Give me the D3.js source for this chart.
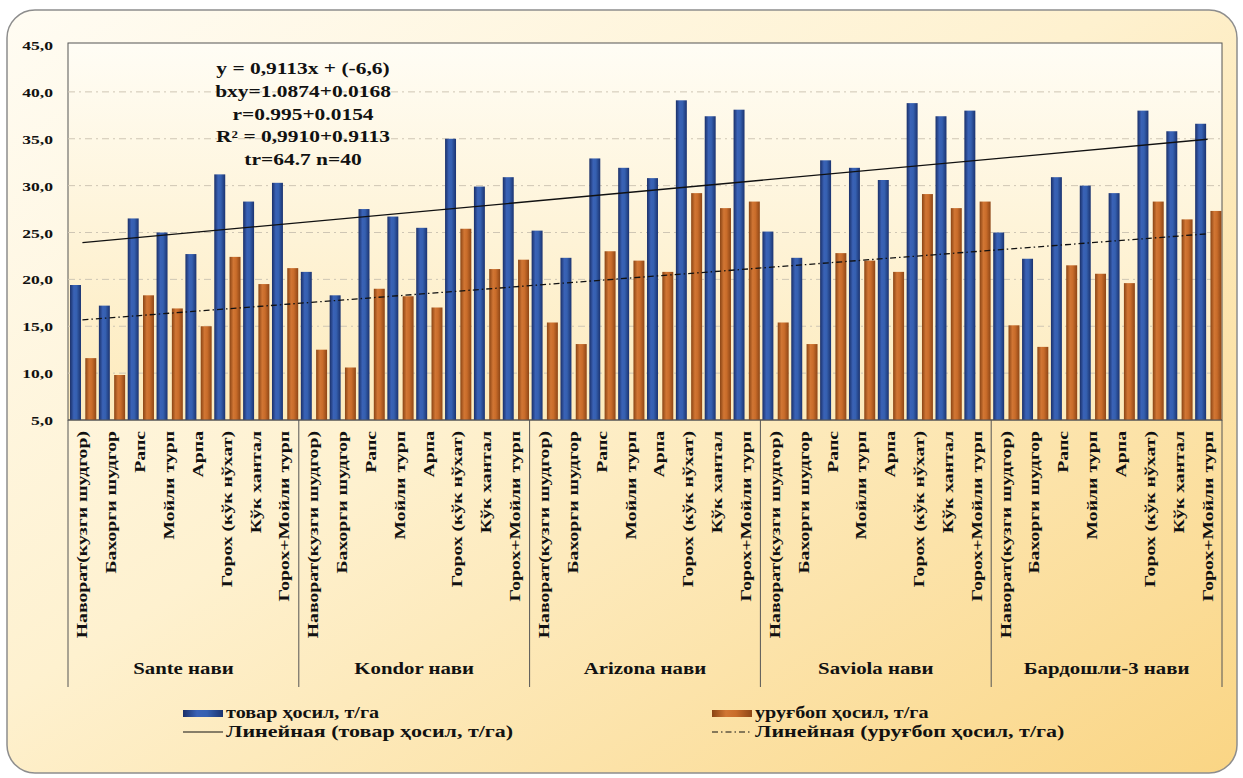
<!DOCTYPE html>
<html><head><meta charset="utf-8">
<script src="https://cdn.jsdelivr.net/npm/d3@7/dist/d3.min.js"></script>
<style>html,body{margin:0;padding:0;background:#fff;}svg{display:block;}</style>
</head><body>
<svg id="chart" width="1243" height="778"></svg>
<script>
const varieties = ["Sante нави", "Kondor нави", "Arizona нави", "Saviola нави", "Бардошли-3 нави"];
const treatments = ["Наворат(кузги шудгор)", "Бахорги шудгор", "Рапс", "Мойли турп", "Арпа", "Горох (кўк нўхат)", "Кўк хантал", "Горох+Мойли турп"];
const tovar = [19.4,17.2,26.5,25.0,22.7,31.2,28.3,30.3, 20.8,18.3,27.5,26.7,25.5,35.0,29.9,30.9, 25.2,22.3,32.9,31.9,30.8,39.1,37.4,38.1, 25.1,22.3,32.7,31.9,30.6,38.8,37.4,38.0, 25.0,22.2,30.9,30.0,29.2,38.0,35.8,36.6];
const urugbop = [11.6,9.8,18.3,16.9,15.0,22.4,19.5,21.2, 12.5,10.6,19.0,18.2,17.0,25.4,21.1,22.1, 15.4,13.1,23.0,22.0,20.8,29.2,27.6,28.3, 15.4,13.1,22.8,22.0,20.8,29.1,27.6,28.3, 15.1,12.8,21.5,20.6,19.6,28.3,26.4,27.3];
const yTicks = [5,10,15,20,25,30,35,40,45];
const seriesNames = ["товар ҳосил, т/га", "уруғбоп  ҳосил, т/га"];
const trendNames = ["Линейная (товар ҳосил, т/га)", "Линейная (уруғбоп  ҳосил, т/га)"];
const equationLines = ["y = 0,9113x + (-6,6)", "bxy=1.0874+0.0168", "r=0.995+0.0154", "R² = 0,9910+0.9113", "tr=64.7 n=40"];

(function(){
const svg = d3.select("#chart");
const FONT = "'Liberation Serif','Times New Roman',serif";
const defs = svg.append("defs");

function lg(id, x1,y1,x2,y2, stops){
  const g = defs.append("linearGradient").attr("id",id).attr("x1",x1).attr("y1",y1).attr("x2",x2).attr("y2",y2);
  stops.forEach(s=>g.append("stop").attr("offset",s[0]).attr("stop-color",s[1]));
}
lg("bgGrad","0","0","1","1",[[0,"#FFFCF3"],[0.45,"#FEF1CF"],[1,"#FAD584"]]);
lg("plotGrad","0","0","0","1",[[0,"#FFFDF5"],[1,"#FDEABB"]]);
lg("blueGrad","0","0","1","0",[[0,"#1A2F68"],[0.35,"#3A62B6"],[0.6,"#3560B0"],[1,"#1B3370"]]);
lg("orangeGrad","0","0","1","0",[[0,"#8A4414"],[0.35,"#D17634"],[0.6,"#C96C2A"],[1,"#8E4616"]]);

svg.append("rect").attr("x",7).attr("y",10).attr("width",1230).attr("height",763)
  .attr("rx",28).attr("fill","url(#bgGrad)").attr("stroke","#8d8d8d").attr("stroke-width",1.5);

const pL = 68, pR = 1222, pT = 45, pB = 420;
const n = varieties.length * treatments.length;
const x = d3.scaleBand().domain(d3.range(n)).range([pL,pR]).paddingInner(0).paddingOuter(0);
const y = d3.scaleLinear().domain([5,45]).range([pB, pT]);
const bw = x.bandwidth();

svg.append("rect").attr("x",pL).attr("y",pT-2).attr("width",pR-pL).attr("height",pB-pT+2)
  .attr("fill","url(#plotGrad)").attr("stroke","#555").attr("stroke-width",1);

svg.append("g").selectAll("line").data(yTicks.filter(t=>t>5 && t<45)).join("line")
  .attr("x1",pL).attr("x2",pR).attr("y1",d=>y(d)).attr("y2",d=>y(d))
  .attr("stroke","#cfc6b4").attr("stroke-width",1).attr("stroke-dasharray","7,4,2,4");

svg.append("g").selectAll("text").data(yTicks).join("text")
  .attr("transform",d=>`translate(53,${y(d)+5}) scale(1.3,1)`)
  .attr("text-anchor","end").attr("font-family",FONT).attr("font-weight","bold").attr("font-size",13.5)
  .attr("fill","#111").text(d=>d.toFixed(1).replace(".",","));

const bars = svg.append("g");
bars.selectAll("rect.b").data(tovar).join("rect").attr("class","b")
  .attr("x",(d,i)=>x(i)+0.07*bw).attr("width",0.38*bw)
  .attr("y",d=>y(d)).attr("height",d=>pB-y(d)).attr("fill","url(#blueGrad)");
bars.selectAll("rect.o").data(urugbop).join("rect").attr("class","o")
  .attr("x",(d,i)=>x(i)+0.6*bw).attr("width",0.38*bw)
  .attr("y",d=>y(d)).attr("height",d=>pB-y(d)).attr("fill","url(#orangeGrad)");

function fit(vals){
  const xs = vals.map((v,i)=>i+1);
  const mx = d3.mean(xs), my = d3.mean(vals);
  const b = d3.sum(xs.map((xi,i)=>(xi-mx)*(vals[i]-my))) / d3.sum(xs.map(xi=>(xi-mx)*(xi-mx)));
  return {a: my - b*mx, b};
}
function trend(vals, dash){
  const f = fit(vals);
  const pts = [1,n].map(k=>[x(k-1)+bw/2, y(f.a+f.b*k)]);
  svg.append("line").attr("x1",pts[0][0]).attr("y1",pts[0][1]).attr("x2",pts[1][0]).attr("y2",pts[1][1])
    .attr("stroke","#111").attr("stroke-width",1.3).attr("stroke-dasharray",dash);
}
trend(tovar, null);
trend(urugbop, "6,3,1.5,3");

svg.append("line").attr("x1",pL).attr("x2",pR).attr("y1",pB).attr("y2",pB).attr("stroke","#555");

const labels = [];
varieties.forEach((v,g)=>treatments.forEach((t,k)=>labels.push({t, i:g*treatments.length+k})));
svg.append("g").selectAll("text").data(labels).join("text")
  .attr("transform",d=>`translate(${x(d.i)+bw/2+5},${431}) rotate(-90) scale(1.36,1)`)
  .attr("text-anchor","end").attr("font-family",FONT).attr("font-weight","bold").attr("font-size",14.5)
  .attr("fill","#111").text(d=>d.t);

const sepIdx = d3.range(varieties.length+1).map(g=>g*treatments.length);
svg.append("g").selectAll("line").data(sepIdx).join("line")
  .attr("x1",d=>d<n? x(d): pR).attr("x2",d=>d<n? x(d): pR)
  .attr("y1",pB).attr("y2",687).attr("stroke","#555").attr("stroke-width",1);

svg.append("g").selectAll("text").data(varieties).join("text")
  .attr("transform",(d,g)=>{const c=(x(g*8)+ (g*8+8<n? x(g*8+8): pR))/2; return `translate(${c},674) scale(1.3,1)`;})
  .attr("text-anchor","middle").attr("font-family",FONT).attr("font-weight","bold").attr("font-size",16)
  .attr("fill","#111").text(d=>d);

svg.append("g").selectAll("text").data(equationLines).join("text")
  .attr("transform",(d,i)=>`translate(303,${74+i*22.8}) scale(1.3,1)`)
  .attr("text-anchor","middle").attr("font-family",FONT).attr("font-weight","bold").attr("font-size",16.5)
  .attr("fill","#111").text(d=>d);

const lgX = [183, 712];
const leg = svg.append("g").attr("font-family",FONT).attr("font-weight","bold").attr("font-size",15.5).attr("fill","#111");
["url(#blueGrad)","url(#orangeGrad)"].forEach((f,i)=>{
  leg.append("rect").attr("x",lgX[i]).attr("y",710).attr("width",40).attr("height",7).attr("fill",f);
  leg.append("text").attr("transform",`translate(${lgX[i]+43},718) scale(1.3,1.1)`).text(seriesNames[i]);
});
[null,"6,3,1.5,3"].forEach((dash,i)=>{
  leg.append("line").attr("x1",lgX[i]).attr("x2",lgX[i]+40).attr("y1",732).attr("y2",732)
    .attr("stroke","#111").attr("stroke-width",1.2).attr("stroke-dasharray",dash);
  leg.append("text").attr("transform",`translate(${lgX[i]+43},737) scale(1.42,1.1)`).text(trendNames[i]);
});
})();
</script>
</body></html>
